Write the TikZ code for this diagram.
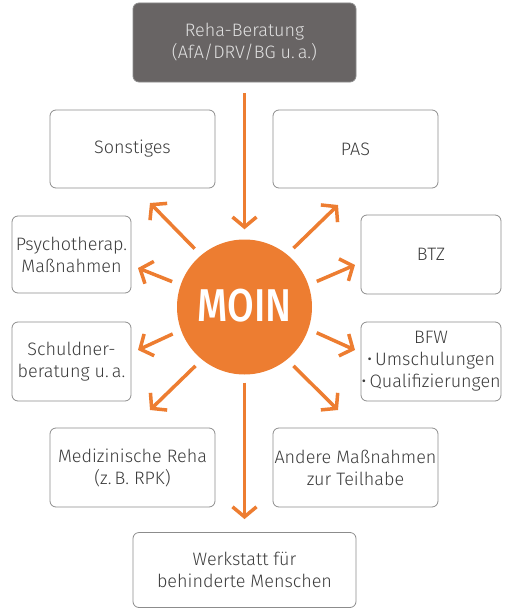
\documentclass[tikz,border=0pt]{standalone}
\usepackage{fontspec}
\setmainfont{Fira Sans Light}
\newfontfamily\moinfont{Fira Sans Medium}
\usetikzlibrary{arrows.meta,positioning}
\definecolor{moinorange}{HTML}{ED7D31}
\definecolor{boxtext}{HTML}{3C3C3C}
\definecolor{rehagray}{HTML}{686464}
\tikzset{
  box/.style={draw=gray!90, rounded corners=6pt, line width=0.8pt, align=center,
    text=boxtext, font=\fontsize{18}{22}\selectfont, inner sep=0pt},
  arr/.style={color=moinorange, line width=3.5pt, shorten <=9pt,
    -{Straight Barb[length=10pt,width=24pt,line join=miter,line cap=butt]}},
}
\begin{document}
\begin{tikzpicture}[x=1pt,y=-1pt,on grid]
    \useasboundingbox (0,0) rectangle (509,610);
    \node[circle, fill=moinorange, minimum size=135pt, inner sep=0pt, text=white] (moin) at (244.5,307)
        {\raisebox{3pt}{\moinfont\fontsize{46}{46}\selectfont\scalebox{0.84}[1]{MOIN}}};
    \node[box, fill=rehagray, text=white!88!black, minimum width=223pt, minimum height=79pt] (reha) [above=264.5pt of moin] {Reha-Beratung\\(AfA/DRV/BG u.\,a.)};
    \node[box, minimum width=165pt, minimum height=78pt] (sonst) [above left=158pt and 112pt of moin] {Sonstiges};
    \node[box, minimum width=165pt, minimum height=78pt] (pas) [above right=158pt and 111pt of moin] {PAS};
    \node[box, minimum width=119pt, minimum height=77pt] (psych) [above left=52.5pt and 173pt of moin] {Psychotherap.\\Maßnahmen};
    \node[box, minimum width=140pt, minimum height=79pt] (btz) [above right=52.5pt and 186.5pt of moin] {BTZ};
    \node[box, minimum width=119pt, minimum height=79pt] (schuld) [below left=54.5pt and 173pt of moin] {Schuldner-\\beratung u.\,a.};
    \node[box, minimum width=140pt, minimum height=79pt] (bfw) [below right=54.5pt and 186.5pt of moin] {BFW\\\textbullet\,Umschulungen\\\textbullet\,Qualifizierungen};
    \node[box, minimum width=165pt, minimum height=79pt] (med) [below left=160.5pt and 112pt of moin] {Medizinische Reha\\(z.\,B. RPK)};
    \node[box, minimum width=165pt, minimum height=79pt] (andere) [below right=160.5pt and 111pt of moin] {Andere Maßnahmen\\zur Teilhabe};
    \node[box, minimum width=223pt, minimum height=75pt] (werk) [below=263pt of moin] {Werkstatt für\\behinderte Menschen};
    \coordinate (to-sonst) at (150,203);
    \coordinate (to-pas) at (338,205);
    \coordinate (to-psych) at (138,268);
    \coordinate (to-btz) at (355,265);
    \coordinate (to-schuld) at (138,350);
    \coordinate (to-bfw) at (355,350);
    \coordinate (to-med) at (150,410);
    \coordinate (to-andere) at (338,410);
    \path[arr]
        (reha) edge[shorten <=11pt, shorten >=10pt] (moin)
        (moin) edge[shorten <=8pt, shorten >=13pt] (werk)
        (moin.130) edge (to-sonst)
        (moin.51) edge (to-pas)
        (moin.161) edge (to-psych)
        (moin.19) edge (to-btz)
        (moin.200) edge (to-schuld)
        (moin.341) edge (to-bfw)
        (moin.231) edge (to-med)
        (moin.309) edge (to-andere);
\end{tikzpicture}
\end{document}
